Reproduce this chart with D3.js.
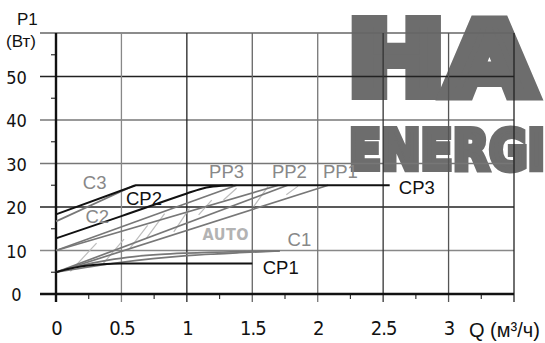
<!DOCTYPE html>
<html>
<head>
<meta charset="utf-8">
<script src="https://cdn.jsdelivr.net/npm/d3@7"></script>
<style>
  html, body { margin: 0; padding: 0; background: #fff; }
  svg { display: block; }
</style>
</head>
<body>
<svg id="chart" width="545" height="343"></svg>
<script>
// Power consumption P1 (W) versus flow Q (m³/h) for each pump mode
const xTicks = [0, 0.5, 1, 1.5, 2, 2.5, 3];
const yTicks = [0, 10, 20, 30, 40, 50];

const cp1 = [[0, 5], [0.1, 5.8], [0.2, 6.4], [0.35, 6.85], [0.5, 7.0], [1.0, 7.0], [1.5, 7.0]];
const cp2 = [[0, 12.8], [0.5, 17.9], [1.0, 23.1], [1.1, 24.1], [1.2, 24.7], [1.35, 25]];
const cp3 = [[0, 18.3], [0.61, 25], [2.55, 25]];
const c1 = [[0, 5], [0.2, 6.6], [0.4, 7.8], [0.6, 8.6], [0.8, 9.1], [1.0, 9.4], [1.4, 9.75], [1.71, 9.9]];
const c1Flow = [[0, 5], [0.5, 7.3], [1.0, 8.8], [1.4, 9.5], [1.71, 9.9]];
const c3 = [[0, 16.7], [0.6, 25]];
const pp3 = [[0, 10], [1.38, 25]];
const pp2 = [[0, 10], [1.70, 25]];
const pp2Low = [[0, 5], [1.77, 25]];
const pp1 = [[0, 5], [2.08, 25]];
const autoRange = [
  [[0.11, 5.2], [0.31, 11.7]],
  [[0.36, 7.0], [0.52, 12.6]],
  [[0.56, 10.3], [0.70, 15.8]],
  [[0.69, 12.8], [0.83, 18.5]],
  [[0.90, 14.3], [1.02, 19.7]],
  [[1.09, 18.2], [1.19, 21.6]],
  [[1.28, 21.6], [1.38, 24.3]],
  [[1.51, 20.1], [1.62, 24.7]],
  [[1.76, 22.8], [1.85, 24.8]]
];

const svg = d3.select("#chart");
const x = d3.scaleLinear().domain([0, 3.5]).range([56, 514]);
const y = d3.scaleLinear().domain([0, 60]).range([294, 33]);

const condensed = "'DejaVu Sans Condensed', 'DejaVu Sans', sans-serif";
const sans = "'Liberation Sans', Arial, sans-serif";

// brand mark behind the grid, heavy lettering
const logo = svg.append("g").attr("fill", "#6d6d6d").attr("stroke", "#6d6d6d")
  .attr("stroke-linejoin", "miter")
  .attr("font-family", "'DejaVu Sans', sans-serif").attr("font-weight", "bold");
logo.append("text").attr("x", 348).attr("y", 94)
  .attr("font-size", 100).attr("stroke-width", 12)
  .attr("textLength", 186).attr("lengthAdjust", "spacingAndGlyphs")
  .text("HA");
logo.append("text").attr("x", 349).attr("y", 169)
  .attr("font-size", 56).attr("stroke-width", 6)
  .attr("textLength", 196).attr("lengthAdjust", "spacingAndGlyphs")
  .text("ENERGI");

// grid
const hGridColor = {60: "#666", 50: "#222", 40: "#777", 30: "#777", 20: "#222", 10: "#888"};
const vGridColor = {0.5: "#888", 1: "#222", 1.5: "#666", 2: "#777", 2.5: "#333", 3: "#555", 3.5: "#222"};
const grid = svg.append("g");
[10, 20, 30, 40, 50, 60].forEach(v => {
  grid.append("line").attr("x1", 40).attr("x2", x(3.5)).attr("y1", y(v)).attr("y2", y(v))
    .attr("stroke", hGridColor[v]).attr("stroke-width", 1.3);
});
[0.5, 1, 1.5, 2, 2.5, 3, 3.5].forEach(v => {
  grid.append("line").attr("x1", x(v)).attr("x2", x(v)).attr("y1", y(60)).attr("y2", y(0) + 8)
    .attr("stroke", vGridColor[v]).attr("stroke-width", 1.3);
});

// minor ticks
d3.range(0.25, 3.5, 0.5).forEach(v => {
  grid.append("line").attr("x1", x(v)).attr("x2", x(v)).attr("y1", y(0)).attr("y2", y(0) + 5)
    .attr("stroke", "#333").attr("stroke-width", 1.2);
});
d3.range(5, 60, 10).forEach(v => {
  grid.append("line").attr("x1", x(0) - 5).attr("x2", x(0)).attr("y1", y(v)).attr("y2", y(v))
    .attr("stroke", "#333").attr("stroke-width", 1.2);
});

// axes
svg.append("line").attr("x1", 40).attr("x2", x(3.5)).attr("y1", y(0)).attr("y2", y(0))
  .attr("stroke", "#111").attr("stroke-width", 2.4);
svg.append("line").attr("x1", x(0)).attr("x2", x(0)).attr("y1", y(60)).attr("y2", y(0) + 8)
  .attr("stroke", "#111").attr("stroke-width", 2.4);

const xAxis = d3.axisBottom(x).tickValues(xTicks).tickSize(0).tickPadding(0)
  .tickFormat(d => String(d));
svg.append("g").attr("transform", `translate(0,${y(0)})`).call(xAxis)
  .call(g => g.select(".domain").remove())
  .call(g => g.selectAll("text").attr("y", 41).attr("dy", 0)
    .attr("font-family", condensed).attr("font-size", 20).attr("letter-spacing", -1)
    .attr("fill", "#111"));

const yAxis = d3.axisLeft(y).tickValues(yTicks).tickSize(0).tickPadding(0);
svg.append("g").attr("transform", `translate(${x(0)},0)`).call(yAxis)
  .call(g => g.select(".domain").remove())
  .call(g => g.selectAll("text").attr("x", -39.5).attr("dy", "0.38em")
    .attr("text-anchor", "middle")
    .attr("font-family", condensed).attr("font-size", 18).attr("fill", "#111"));

// axis titles
svg.append("text").attr("x", 17).attr("y", 25).attr("font-family", sans).attr("font-size", 17)
  .attr("fill", "#111").text("P1");
svg.append("text").attr("x", 6).attr("y", 47).attr("font-family", sans).attr("font-size", 17)
  .attr("fill", "#111").text("(Вт)");
svg.append("text").attr("x", 469).attr("y", 337).attr("font-family", sans).attr("font-size", 20)
  .attr("fill", "#111").text("Q (м³/ч)");

// curves
const straight = d3.line().x(d => x(d[0])).y(d => y(d[1]));
const smooth = d3.line().x(d => x(d[0])).y(d => y(d[1])).curve(d3.curveMonotoneX);
const plot = svg.append("g").attr("fill", "none").attr("stroke-linejoin", "round");

autoRange.forEach(seg => {
  plot.append("path").attr("d", straight(seg)).attr("stroke", "#bdbdbd").attr("stroke-width", 1.2);
});
[pp3, pp2, pp2Low, pp1, c3].forEach(s => {
  plot.append("path").attr("d", straight(s)).attr("stroke", "#777").attr("stroke-width", 1.7);
});
[c1, c1Flow].forEach(s => {
  plot.append("path").attr("d", smooth(s)).attr("stroke", "#777").attr("stroke-width", 1.7);
});
plot.append("path").attr("d", smooth(cp1)).attr("stroke", "#111").attr("stroke-width", 2);
plot.append("path").attr("d", smooth(cp2)).attr("stroke", "#111").attr("stroke-width", 2);
plot.append("path").attr("d", straight(cp3)).attr("stroke", "#111").attr("stroke-width", 2);

// mode labels
const labels = [
  {t: "C3", q: 0.205, p: 24.1, c: "#888"},
  {t: "C2", q: 0.225, p: 16.3, c: "#888"},
  {t: "CP2", q: 0.535, p: 20.4, c: "#111"},
  {t: "PP3", q: 1.17, p: 26.7, c: "#888"},
  {t: "PP2", q: 1.65, p: 26.7, c: "#888"},
  {t: "PP1", q: 2.04, p: 26.7, c: "#888"},
  {t: "C1", q: 1.77, p: 11.0, c: "#888"},
  {t: "CP1", q: 1.58, p: 4.6, c: "#111"},
  {t: "CP3", q: 2.62, p: 23.0, c: "#111"}
];
svg.append("g").selectAll("text").data(labels).join("text")
  .attr("x", d => x(d.q)).attr("y", d => y(d.p))
  .attr("font-family", sans).attr("font-size", 18.5).attr("fill", d => d.c)
  .text(d => d.t);

svg.append("text").attr("x", x(1.12)).attr("y", y(12.3))
  .attr("font-family", condensed).attr("font-weight", "bold").attr("font-size", 16)
  .attr("letter-spacing", 0.5).attr("fill", "#b3b3b3").text("AUTO");
</script>
</body>
</html>
